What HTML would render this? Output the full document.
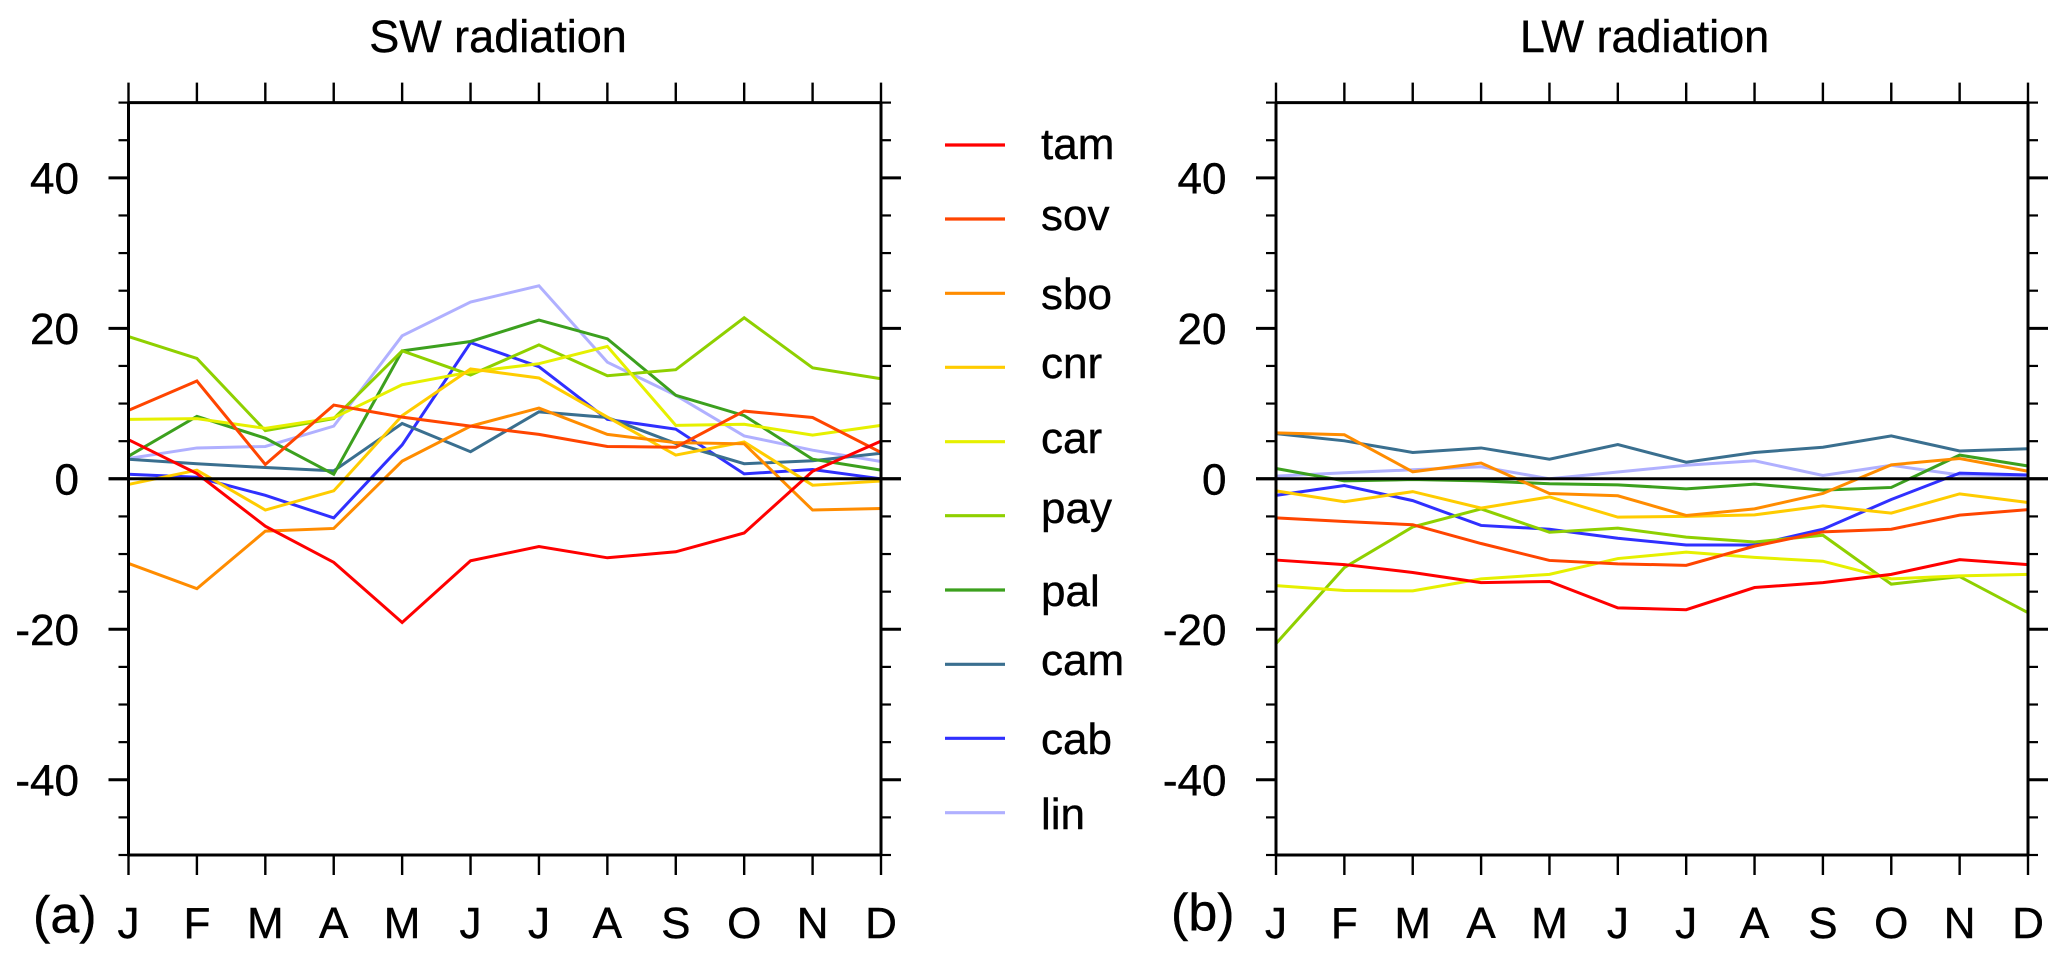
<!DOCTYPE html>
<html lang="en">
<head>
<meta charset="utf-8">
<title>SW and LW radiation</title>
<style>
html,body{margin:0;padding:0;background:#fff;}
svg{display:block;}
text{font-family:"Liberation Sans",Arial,sans-serif;fill:#000;stroke:#000;stroke-width:0.4px;}
</style>
</head>
<body>
<svg id="chart" xmlns="http://www.w3.org/2000/svg" width="2067" height="961" viewBox="0 0 2067 961">
<rect x="0" y="0" width="2067" height="961" fill="#fff"/>
<text x="498" y="52" font-size="45" text-anchor="middle">SW radiation</text>
<text x="1644.5" y="52" font-size="45" text-anchor="middle">LW radiation</text>
<text x="33" y="932.5" font-size="52">(a)</text>
<text x="1171" y="930" font-size="52">(b)</text>
<g id="panel-sw"></g>
<g id="panel-lw"></g>
<g font-size="44">
<g><line x1="945" x2="1005" y1="145" y2="145" stroke="#ff0000" stroke-width="3.2"/><text x="1041" y="159">tam</text></g>
<g><line x1="945" x2="1005" y1="219" y2="219" stroke="#ff4500" stroke-width="3.2"/><text x="1041" y="230">sov</text></g>
<g><line x1="945" x2="1005" y1="293.3" y2="293.3" stroke="#ff8c00" stroke-width="3.2"/><text x="1041" y="309">sbo</text></g>
<g><line x1="945" x2="1005" y1="367.3" y2="367.3" stroke="#ffcc00" stroke-width="3.2"/><text x="1041" y="378">cnr</text></g>
<g><line x1="945" x2="1005" y1="441.7" y2="441.7" stroke="#e6f000" stroke-width="3.2"/><text x="1041" y="453">car</text></g>
<g><line x1="945" x2="1005" y1="515.7" y2="515.7" stroke="#8fd000" stroke-width="3.2"/><text x="1041" y="523">pay</text></g>
<g><line x1="945" x2="1005" y1="590" y2="590" stroke="#3ca01e" stroke-width="3.2"/><text x="1041" y="606">pal</text></g>
<g><line x1="945" x2="1005" y1="664.3" y2="664.3" stroke="#3a6f8f" stroke-width="3.2"/><text x="1041" y="675">cam</text></g>
<g><line x1="945" x2="1005" y1="738.3" y2="738.3" stroke="#3030ff" stroke-width="3.2"/><text x="1041" y="754">cab</text></g>
<g><line x1="945" x2="1005" y1="812.7" y2="812.7" stroke="#b0b0ff" stroke-width="3.2"/><text x="1041" y="829">lin</text></g>
</g>
</svg>
<script>
const months = ['J','F','M','A','M','J','J','A','S','O','N','D'];
const seriesNames = ['tam','sov','sbo','cnr','car','pay','pal','cam','cab','lin'];
const seriesColors = ['#ff0000','#ff4500','#ff8c00','#ffcc00','#e6f000','#8fd000','#3ca01e','#3a6f8f','#3030ff','#b0b0ff'];
const yMajorTicks = [-40,-20,0,20,40];
const yMinorTicks = [-50,-45,-35,-30,-25,-15,-10,-5,5,10,15,25,30,35,45,50];

const swTam = [5.2,0.7,-6.3,-11.1,-19.1,-10.9,-9.0,-10.5,-9.7,-7.2,1.0,5.0];
const swSov = [9.1,13.0,1.9,9.8,8.2,7.0,5.9,4.3,4.2,9.0,8.15,3.5];
const swSbo = [-11.25,-14.6,-6.95,-6.6,2.35,7.0,9.4,5.9,4.8,4.65,-4.15,-3.95];
const swCnr = [-0.75,1.15,-4.15,-1.6,8.4,14.6,13.4,8.2,3.15,4.9,-0.85,-0.3];
const swCar = [7.9,8.0,6.7,8.1,12.5,14.2,15.3,17.6,7.1,7.25,5.8,7.1];
const swPay = [18.9,16.0,6.4,8.0,17.0,13.8,17.8,13.7,14.5,21.4,14.75,13.3];
const swPal = [3.0,8.3,5.4,0.6,17.0,18.25,21.1,18.6,11.1,8.4,2.6,1.15];
const swCam = [2.6,2.0,1.5,1.05,7.35,3.6,8.9,8.15,4.7,2.0,2.4,3.4];
const swCab = [0.6,0.2,-2.2,-5.2,4.5,18.1,14.9,7.9,6.6,0.66,1.24,0.0];
const swLin = [2.7,4.1,4.3,7.0,19.0,23.5,25.65,15.5,11.1,5.7,3.8,2.3];

const lwTam = [-10.8,-11.4,-12.45,-13.8,-13.65,-17.15,-17.4,-14.45,-13.8,-12.7,-10.75,-11.4];
const lwSov = [-5.2,-5.67,-6.1,-8.6,-10.85,-11.3,-11.5,-8.95,-7.05,-6.7,-4.83,-4.1];
const lwSbo = [6.1,5.85,0.93,2.1,-1.95,-2.26,-4.87,-4.0,-1.95,1.86,2.7,1.0];
const lwCnr = [-1.6,-3.05,-1.7,-3.9,-2.4,-5.1,-5.0,-4.8,-3.6,-4.56,-2.0,-3.15];
const lwCar = [-14.2,-14.85,-14.9,-13.3,-12.7,-10.6,-9.75,-10.45,-10.95,-13.3,-12.9,-12.7];
const lwPay = [-21.9,-11.8,-6.4,-4.0,-7.1,-6.56,-7.75,-8.4,-7.5,-14.0,-13.0,-17.8];
const lwPal = [1.37,-0.27,-0.1,-0.27,-0.66,-0.8,-1.33,-0.7,-1.5,-1.15,3.15,1.7];
const lwCam = [6.0,5.05,3.5,4.1,2.6,4.55,2.2,3.5,4.2,5.7,3.7,4.0];
const lwCab = [-2.2,-0.9,-2.9,-6.2,-6.7,-7.9,-8.8,-8.8,-6.7,-2.75,0.75,0.5];
const lwLin = [0.35,0.8,1.2,1.6,0.0,0.9,1.8,2.4,0.44,1.8,0.5,0.4];

const swSeries = [swTam,swSov,swSbo,swCnr,swCar,swPay,swPal,swCam,swCab,swLin];
const lwSeries = [lwTam,lwSov,lwSbo,lwCnr,lwCar,lwPay,lwPal,lwCam,lwCab,lwLin];

const NS = 'http://www.w3.org/2000/svg';
const TOP = 102.6, BOTTOM = 855;
function yScale(v){ return 478.8 - v * (BOTTOM - TOP) / 100; }

function lineEl(parent, x1, y1, x2, y2, w){
  const el = document.createElementNS(NS, 'line');
  el.setAttribute('x1', x1);
  el.setAttribute('y1', y1);
  el.setAttribute('x2', x2);
  el.setAttribute('y2', y2);
  el.setAttribute('stroke', '#000');
  el.setAttribute('stroke-width', w);
  parent.appendChild(el);
  return el;
}

function drawPanel(id, prefix, left, right, data){
  const g = document.getElementById(id);
  const xScale = i => left + i * (right - left) / (months.length - 1);

  for (let s = data.length - 1; s >= 0; s--) {
    const pl = document.createElementNS(NS, 'polyline');
    
    
    pl.setAttribute('fill', 'none');
    pl.setAttribute('stroke', seriesColors[s]);
    pl.setAttribute('stroke-width', '3');
    pl.setAttribute('stroke-linejoin', 'miter');
    pl.setAttribute('points', data[s].map((v, i) => xScale(i).toFixed(2) + ',' + yScale(v).toFixed(2)).join(' '));
    g.appendChild(pl);
  }

  const axes = document.createElementNS(NS, 'g');
  
  
  g.appendChild(axes);

  lineEl(axes, left, TOP, left, BOTTOM, 3);
  lineEl(axes, right, TOP, right, BOTTOM, 3);
  lineEl(axes, left, TOP, right, TOP, 3);
  lineEl(axes, left, BOTTOM, right, BOTTOM, 3);

  yMinorTicks.forEach(v => {
    lineEl(axes, left - 10, yScale(v), left, yScale(v), 2.2);
    lineEl(axes, right, yScale(v), right + 10, yScale(v), 2.2);
  });
  yMajorTicks.forEach(v => {
    lineEl(axes, left - 20, yScale(v), left, yScale(v), 3);
    lineEl(axes, right, yScale(v), right + 20, yScale(v), 3);
    const t = document.createElementNS(NS, 'text');
    
    
    t.setAttribute('x', left - 49.5);
    t.setAttribute('y', yScale(v) + 15.5);
    t.setAttribute('font-size', '44');
    t.setAttribute('text-anchor', 'end');
    t.textContent = String(v);
    axes.appendChild(t);
  });

  months.forEach((m, i) => {
    const x = xScale(i);
    lineEl(axes, x, TOP - 20, x, TOP, 2.4);
    lineEl(axes, x, BOTTOM, x, BOTTOM + 20, 2.4);
    const t = document.createElementNS(NS, 'text');
    
    
    t.setAttribute('x', x);
    t.setAttribute('y', 938);
    t.setAttribute('font-size', '44');
    t.setAttribute('text-anchor', 'middle');
    t.textContent = m;
    axes.appendChild(t);
  });

  const zero = lineEl(axes, left - 20, yScale(0), right + 20, yScale(0), 3);
  
  
}

drawPanel('panel-sw', 'sw', 128.5, 881, swSeries);
drawPanel('panel-lw', 'lw', 1276, 2028, lwSeries);
</script>
</body>
</html>
